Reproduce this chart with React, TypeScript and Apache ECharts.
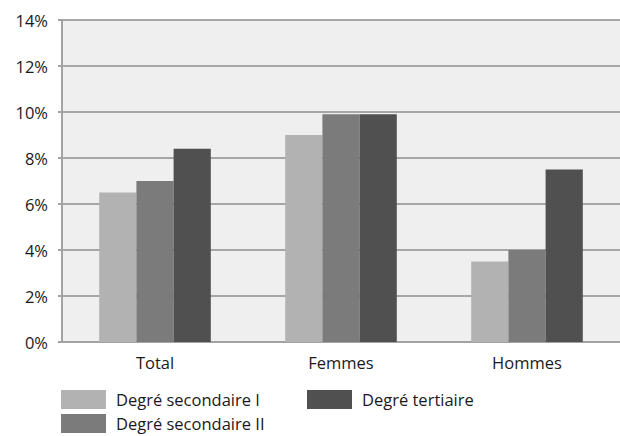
import React, { useEffect, useRef } from "react";
import * as echarts from "echarts";

const categories = ["Total", "Femmes", "Hommes"];
const seriesNames = ["Degré secondaire I", "Degré secondaire II", "Degré tertiaire"];
const secondaireI = [6.5, 9.0, 3.5];
const secondaireII = [7.0, 9.9, 4.0];
const tertiaire = [8.4, 9.9, 7.5];
const colors = ["#b2b2b2", "#7b7b7b", "#505050"];

const FONT = "'Open Sans', sans-serif";

export default function App() {
  const ref = useRef<HTMLDivElement>(null);
  useEffect(() => {
    if (!ref.current) return;
    const chart = echarts.init(ref.current, undefined, { renderer: "svg" });
    const values = [secondaireI, secondaireII, tertiaire];
    const legendPos = [
      { left: 61, top: 390 },
      { left: 61, top: 414 },
      { left: 307, top: 390 },
    ];
    chart.setOption({
      animation: false,
      textStyle: { fontFamily: FONT },
      grid: {
        left: 62,
        top: 20,
        width: 567,
        height: 322,
        show: true,
        backgroundColor: "#efefef",
        borderWidth: 0,
      },
      legend: seriesNames.map((n, i) => ({
        data: [n],
        left: legendPos[i].left,
        top: legendPos[i].top,
        itemWidth: 45,
        itemHeight: 19,
        itemGap: 12,
        icon: "rect",
        textStyle: {
          fontFamily: FONT,
          fontSize: 16.5,
          lineHeight: 17,
          color: "#1a1a1a",
          padding: [0, 0, 0, 5],
        },
        padding: 0,
        selectedMode: false,
      })),
      xAxis: {
        type: "category",
        data: categories,
        axisLine: { show: true, lineStyle: { color: "#a3a3a3", width: 2 } },
        axisTick: { show: false },
        axisLabel: { fontFamily: FONT, fontSize: 16.5, color: "#1a1a1a", margin: 12 },
      },
      yAxis: {
        type: "value",
        min: 0,
        max: 14,
        interval: 2,
        axisLine: { show: true, lineStyle: { color: "#a3a3a3", width: 2 } },
        axisTick: { show: true, length: 4, lineStyle: { color: "#a3a3a3", width: 2 } },
        axisLabel: {
          fontFamily: FONT,
          fontSize: 16.5,
          color: "#1a1a1a",
          margin: 14,
          formatter: (v: number) => v + "%",
        },
        splitLine: { show: true, lineStyle: { color: "#a6a6a6", width: 2 } },
      },
      series: seriesNames.map((n, i) => ({
        name: n,
        type: "bar",
        data: values[i],
        barGap: "0%",
        barCategoryGap: "40%",
        itemStyle: { color: colors[i] },
      })),
    });
    return () => chart.dispose();
  }, []);
  return (
    <div
      ref={ref}
      style={{ position: "fixed", left: 0, top: 0, width: 620, height: 436, background: "#fff" }}
    />
  );
}
